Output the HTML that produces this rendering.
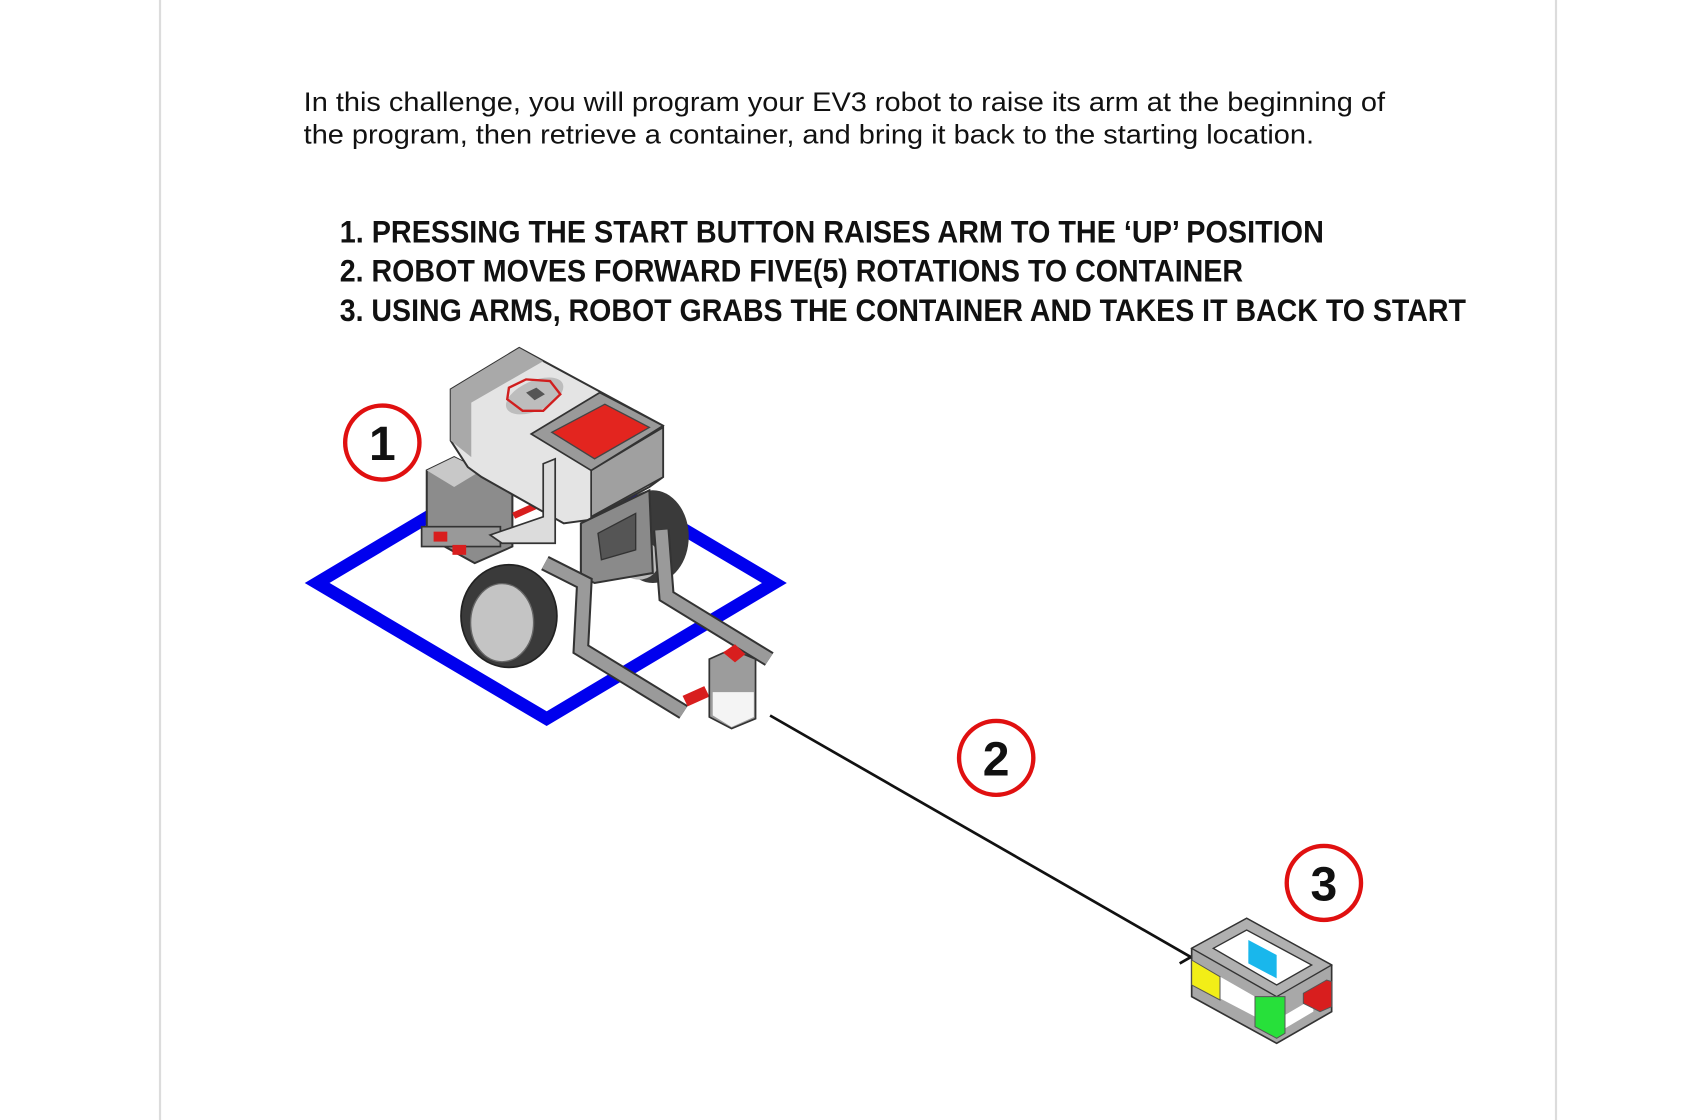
<!DOCTYPE html>
<html><head><meta charset="utf-8"><style>
html,body{margin:0;padding:0;background:#fff;width:1704px;height:1120px;overflow:hidden}
svg{display:block}
</style></head><body>
<svg width="1704" height="1120" viewBox="0 0 1560 1030" preserveAspectRatio="none" xmlns="http://www.w3.org/2000/svg">
<rect width="1560" height="1030" fill="#fff"/>
<line x1="146.5" y1="0" x2="146.5" y2="1030" stroke="#dcdcdc" stroke-width="2"/>
<line x1="1424.5" y1="0" x2="1424.5" y2="1030" stroke="#dcdcdc" stroke-width="2"/>
<g font-family="'Liberation Sans', Arial, sans-serif" font-size="25" fill="#111">
<text x="278" y="102" textLength="990" lengthAdjust="spacingAndGlyphs">In this challenge, you will program your EV3 robot to raise its arm at the beginning of</text>
<text x="278" y="132" textLength="925" lengthAdjust="spacingAndGlyphs">the program, then retrieve a container, and bring it back to the starting location.</text>
</g>
<g font-family="'Liberation Sans Narrow','Liberation Sans', Arial, sans-serif" font-weight="bold" font-size="29" fill="#111">
<text x="311" y="223" textLength="901" lengthAdjust="spacingAndGlyphs">1. PRESSING THE START BUTTON RAISES ARM TO THE ‘UP’ POSITION</text>
<text x="311" y="259" textLength="827" lengthAdjust="spacingAndGlyphs">2. ROBOT MOVES FORWARD FIVE(5) ROTATIONS TO CONTAINER</text>
<text x="311" y="295" textLength="1031" lengthAdjust="spacingAndGlyphs">3. USING ARMS, ROBOT GRABS THE CONTAINER AND TAKES IT BACK TO START</text>
</g>
<line x1="705" y1="658" x2="1090" y2="880" stroke="#111" stroke-width="2.5"/>
<line x1="1080" y1="886" x2="1094" y2="878" stroke="#111" stroke-width="2.5"/>
<!-- robot -->
<g transform="translate(502.5,320) scale(0.954,0.922) translate(-505,-320)">
<g transform="scale(0.91549,0.91964) translate(280,330) scale(0.359)">
<polygon points="80,760 745,350 1415,760 750,1170" fill="none" stroke="#0000ee" stroke-width="38" stroke-linejoin="miter"/>
<ellipse cx="1060" cy="620" rx="105" ry="140" fill="#3a3a3a"/>
<ellipse cx="1020" cy="690" rx="60" ry="60" fill="#bbb"/>
<polygon points="400,420 480,380 650,470 650,650 540,700 400,620" fill="#8c8c8c" stroke="#333" stroke-width="6"/>
<polygon points="400,420 480,380 560,420 480,470" fill="#c8c8c8"/>
<rect x="385" y="590" width="230" height="60" fill="#999" stroke="#333" stroke-width="5"/>
<rect x="420" y="605" width="40" height="30" fill="#d81e1e"/><rect x="475" y="645" width="40" height="30" fill="#d81e1e"/>
<rect x="650" y="530" width="80" height="20" fill="#d81e1e" transform="rotate(-25 690 540)"/>
<polygon points="470,175 670,50 1090,285 1090,440 1050,470 870,570 800,580 560,440 520,410 470,330" fill="#e4e4e4" stroke="#333" stroke-width="6"/>
<polygon points="470,175 670,50 740,90 530,215 530,380 470,330" fill="#a9a9a9"/>
<polygon points="880,420 1090,290 1090,440 880,560" fill="#a0a0a0" stroke="#333" stroke-width="5"/>
<polygon points="705,310 905,185 1090,285 880,420" fill="#9a9a9a" stroke="#333" stroke-width="5"/>
<polygon points="765,305 920,220 1050,290 890,385" fill="#e3251f" stroke="#444" stroke-width="4"/>
<ellipse cx="715" cy="195" rx="90" ry="45" fill="#bdbdbd" transform="rotate(-25 715 195)"/>
<polygon points="640,170 690,145 760,150 790,190 740,240 680,240 635,205" fill="none" stroke="#d01e1e" stroke-width="7"/>
<polygon points="690,185 720,170 745,190 715,208" fill="#555"/>
<polygon points="740,400 775,385 775,640 620,640 585,615 740,560" fill="#dcdcdc" stroke="#333" stroke-width="5"/>
<polygon points="850,580 1050,480 1060,730 890,760 850,740" fill="#8a8a8a" stroke="#333" stroke-width="6"/>
<polygon points="900,610 1010,550 1010,660 910,690" fill="#555" stroke="#333" stroke-width="4"/>
<ellipse cx="640" cy="860" rx="140" ry="155" fill="#3a3a3a" stroke="#222" stroke-width="5"/>
<ellipse cx="620" cy="880" rx="92" ry="118" fill="#c4c4c4" stroke="#666" stroke-width="4"/>
<polyline points="745,700 860,760 850,960 1150,1150" fill="none" stroke="#333" stroke-width="48" stroke-linejoin="miter"/>
<polyline points="745,700 860,760 850,960 1150,1150" fill="none" stroke="#9a9a9a" stroke-width="36" stroke-linejoin="miter"/>
<polyline points="1085,600 1100,800 1400,990" fill="none" stroke="#333" stroke-width="48"/>
<polyline points="1085,600 1100,800 1400,990" fill="none" stroke="#9a9a9a" stroke-width="36"/>
<rect x="1150" y="1085" width="70" height="35" fill="#d81e1e" transform="rotate(-25 1185 1100)"/>
<polygon points="1225,990 1290,960 1360,990 1360,1170 1290,1200 1225,1165" fill="#9c9c9c" stroke="#333" stroke-width="5"/>
<polygon points="1235,1090 1355,1090 1355,1165 1290,1195 1235,1160" fill="#f4f4f4"/>
<polygon points="1265,970 1300,945 1330,975 1300,1000" fill="#d81e1e"/>
</g>
</g>
<!-- container -->
<g transform="scale(0.91549,0.91964) translate(1180,830) scale(0.33333)">
<polygon points="35,355 200,265 455,405 455,545 290,640 35,500" fill="#a8a8a8" stroke="#333" stroke-width="5"/>
<polygon points="35,355 200,265 455,405 290,500" fill="#b0b0b0" stroke="#333" stroke-width="4"/>
<polygon points="100,355 200,300 395,405 290,465" fill="#fff" stroke="#333" stroke-width="4"/>
<polygon points="205,330 290,375 290,445 205,400" fill="#19b7ec"/>
<polygon points="120,440 225,500 225,560 120,505" fill="#fff"/>
<polygon points="315,555 400,505 400,545 315,595" fill="#fff"/>
<polygon points="35,390 120,440 120,510 35,465" fill="#f2ee17" stroke="#555" stroke-width="3"/>
<polygon points="225,500 315,500 315,610 290,625 225,590" fill="#27e03a" stroke="#555" stroke-width="3"/>
<polygon points="370,490 440,450 455,455 455,530 420,545 370,520" fill="#d81e1e" stroke="#555" stroke-width="3"/>
</g>
<g fill="#fff" stroke="#e01010" stroke-width="4">
<circle cx="350" cy="407" r="34"/>
<circle cx="912" cy="697" r="34"/>
<circle cx="1212" cy="812" r="34"/>
</g>
<g font-family="'Liberation Sans', Arial, sans-serif" font-weight="bold" font-size="44" fill="#111" text-anchor="middle">
<text x="350" y="423">1</text>
<text x="912" y="713">2</text>
<text x="1212" y="828">3</text>
</g>
</svg>
</body></html>
